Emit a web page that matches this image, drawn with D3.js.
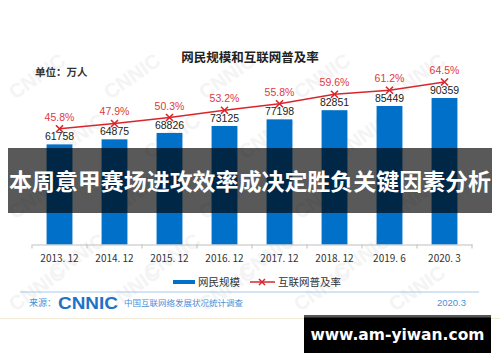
<!DOCTYPE html>
<html><head><meta charset="utf-8">
<script src="https://cdn.jsdelivr.net/npm/d3@7/dist/d3.min.js"></script>
<style>body{margin:0;background:#fff}svg{display:block}</style>
</head><body>
<svg id="c" width="500" height="362"></svg>
<script>
const categories = ["2013. 12","2014. 12","2015. 12","2016. 12","2017. 12","2018. 12","2019. 6","2020. 3"];
const users = [61758,64875,68826,73125,77198,82851,85449,90359];
const rates = [45.8,47.9,50.3,53.2,55.8,59.6,61.2,64.5];
const legendLabels = ["网民规模","互联网普及率"];

const svg = d3.select("#c");
const font = "'Noto Sans CJK SC','Liberation Sans',Arial,sans-serif";
const blue = "#0070c8", red = "#d9262c";

// faint watermark
const wm = svg.append("g").attr("fill","#f4f4f4").attr("font-family","'Liberation Sans',Arial")
  .attr("font-weight","bold").attr("font-size",20);
[100,160,220,280,312].forEach((yy,r)=>{
  for (let c=0;c<5;c++){
    const xx = 15 + c*95 + (r%2)*40;
    if (xx > 420) continue;
    wm.append("text").attr("transform",`translate(${xx},${yy}) rotate(-35)`).text("CNNIC");
  }
});

const x = d3.scaleBand().domain(categories).range([32,472]).paddingInner(0.53).paddingOuter(0.265);
const y = d3.scaleLinear().domain([0,100000]).range([244.5,82.4]);
const y2 = d3.scaleLinear().domain([0,100]).range([243.1,-6.6]);

// title
svg.append("text").attr("x",250).attr("y",62).attr("text-anchor","middle")
  .attr("font-family",font).attr("font-weight","bold").attr("font-size",12.5).attr("fill","#222").text("网民规模和互联网普及率");
svg.append("text").attr("x",35).attr("y",76).attr("font-family",font).attr("font-weight","bold")
  .attr("font-size",10.5).attr("fill","#333").text("单位：万人");

// bars
svg.append("g").selectAll("rect").data(users).join("rect")
  .attr("x",(d,i)=>x(categories[i])).attr("width",x.bandwidth())
  .attr("y",d=>y(d)).attr("height",d=>y(0)-y(d)).attr("fill",blue);

// axis
const ax = svg.append("g").attr("transform",`translate(0,${y(0)})`)
  .call(d3.axisBottom(x).tickSize(0).tickPadding(10));
ax.select(".domain").attr("stroke","#bfbfbf");
ax.selectAll("text").attr("font-family",font).attr("font-size",10).attr("fill","#333");
const bounds = d3.range(categories.length+1).map(i=>32+i*(440/categories.length));
ax.selectAll("line.tk").data(bounds).join("line").attr("class","tk")
  .attr("x1",d=>d).attr("x2",d=>d).attr("y1",0).attr("y2",4).attr("stroke","#bfbfbf");

// bar value labels
svg.append("g").selectAll("text").data(users).join("text")
  .attr("x",(d,i)=>x(categories[i])+x.bandwidth()/2).attr("y",d=>y(d)-4)
  .attr("text-anchor","middle").attr("font-family","'Liberation Sans',Arial").attr("font-size",10.5)
  .attr("fill","#222").text(d=>d);

// line
const cx = (d,i)=>x(categories[i])+x.bandwidth()/2;
svg.append("path").datum(rates).attr("fill","none").attr("stroke",red).attr("stroke-width",1.5)
  .attr("d",d3.line().x(cx).y(d=>y2(d)));
svg.append("g").selectAll("path").data(rates).join("path")
  .attr("d",(d,i)=>{const px=cx(d,i),py=y2(d);return `M${px-3.5},${py-3.5}L${px+3.5},${py+3.5}M${px-3.5},${py+3.5}L${px+3.5},${py-3.5}`;})
  .attr("stroke",red).attr("stroke-width",1.6);
svg.append("g").selectAll("text").data(rates).join("text")
  .attr("x",cx).attr("y",d=>y2(d)-8).attr("text-anchor","middle")
  .attr("font-family","'Liberation Sans',Arial").attr("font-size",10.5).attr("fill","#e0393e")
  .text(d=>d.toFixed(1)+"%");

// legend
const lg = svg.append("g").attr("font-family",font).attr("font-size",10.5).attr("fill","#333");
lg.append("line").attr("x1",173).attr("x2",195).attr("y1",282).attr("y2",282).attr("stroke",blue).attr("stroke-width",4);
lg.append("text").attr("x",198).attr("y",286).text(legendLabels[0]);
lg.append("line").attr("x1",250).attr("x2",275).attr("y1",282).attr("y2",282).attr("stroke",red).attr("stroke-width",1.5);
lg.append("path").attr("d","M259,279L265,285M259,285L265,279").attr("stroke",red).attr("stroke-width",1.5);
lg.append("text").attr("x",278).attr("y",286).text(legendLabels[1]);

// footer
svg.append("line").attr("x1",20).attr("x2",479).attr("y1",292).attr("y2",292).attr("stroke","#a9c9ec").attr("stroke-width",1);
svg.append("text").attr("x",29).attr("y",306).attr("font-family",font).attr("font-size",9).attr("fill","#4a90d9").text("来源：");
svg.append("text").attr("x",58).attr("y",309).attr("font-family","'Liberation Sans',Arial").attr("font-weight","bold")
  .attr("font-size",17).attr("fill","#1f73c6").attr("textLength",60).attr("lengthAdjust","spacingAndGlyphs").text("CNNIC");
svg.append("text").attr("x",124).attr("y",306).attr("font-family",font).attr("font-size",8.5).attr("fill","#4a90d9").text("中国互联网络发展状况统计调查");
svg.append("text").attr("x",466).attr("y",306).attr("text-anchor","end").attr("font-family","'Liberation Sans',Arial")
  .attr("font-size",9.5).attr("fill","#4a90d9").text("2020.3");
svg.append("line").attr("x1",0).attr("x2",500).attr("y1",318.5).attr("y2",318.5).attr("stroke","#f3ead8").attr("stroke-width",1);

// banner overlay
svg.append("rect").attr("x",8).attr("y",148).attr("width",484).attr("height",65).attr("fill","#000").attr("opacity",0.65);
svg.append("text").attr("x",250).attr("y",190).attr("text-anchor","middle").attr("font-family",font)
  .attr("font-weight","bold").attr("font-size",22.5).attr("fill","#fff").attr("textLength",482).attr("lengthAdjust","spacingAndGlyphs")
  .text("本周意甲赛场进攻效率成决定胜负关键因素分析");

// watermark box
svg.append("rect").attr("x",304).attr("y",315).attr("width",187).attr("height",38).attr("fill","#000");
svg.append("rect").attr("x",304).attr("y",315).attr("width",187).attr("height",2.5).attr("fill","#555");
svg.append("text").attr("x",397.5).attr("y",340).attr("text-anchor","middle").attr("font-family","'DejaVu Sans',sans-serif")
  .attr("font-weight","bold").attr("font-size",15.5).attr("fill","#fff").text("www.am-yiwan.com");
</script>
</body></html>
